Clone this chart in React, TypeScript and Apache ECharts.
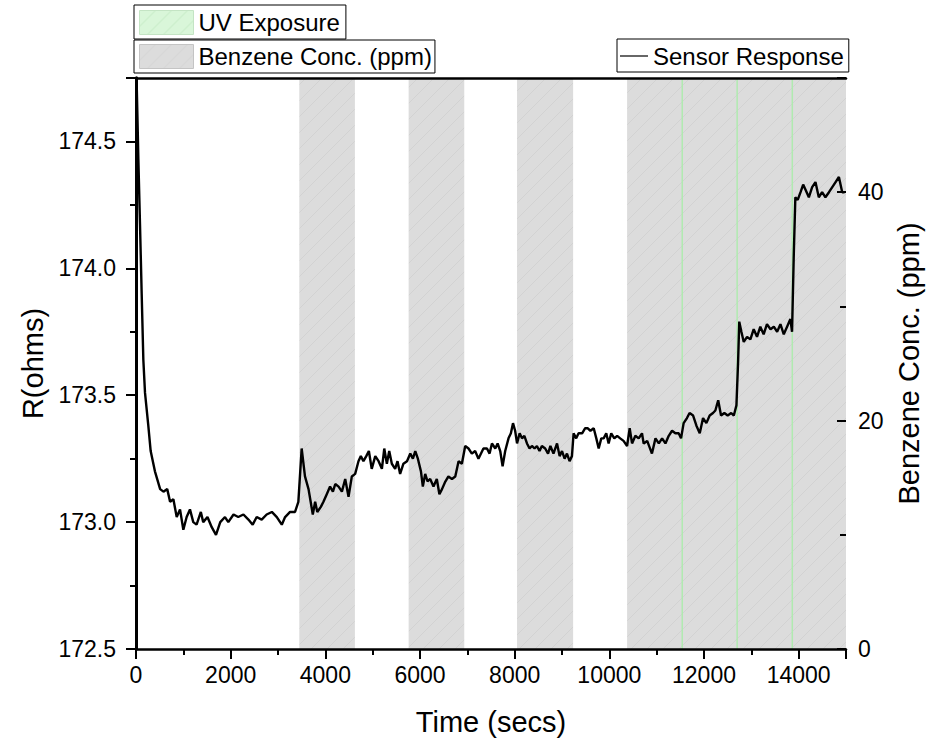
import React, { useEffect, useRef } from "react";
import * as echarts from "echarts";

// Sensor resistance trace (time in s, resistance in ohms)
const timeSecs = [
  0, 30, 50, 85, 120, 155, 190, 260, 310, 400, 510, 580, 660, 720, 790, 860, 930, 1000, 1070, 1140,
  1210, 1280, 1370, 1420, 1510, 1600, 1690, 1780, 1880, 1950, 2060, 2160, 2270, 2375, 2465, 2550,
  2655, 2760, 2870, 2975, 3080, 3150, 3255, 3360, 3430, 3500, 3570, 3645, 3690, 3735, 3785, 3830,
  3905, 3960, 4030, 4100, 4160, 4210, 4280, 4350, 4420, 4490, 4560, 4630, 4700, 4750, 4805, 4865,
  4920, 4980, 5055, 5125, 5195, 5245, 5300, 5350, 5405, 5475, 5525, 5580, 5650, 5725, 5795, 5850,
  5900, 5955, 6020, 6060, 6110, 6160, 6215, 6285, 6355, 6410, 6465, 6535, 6600, 6675, 6745, 6815,
  6885, 6955, 7025, 7095, 7165, 7235, 7340, 7415, 7470, 7520, 7590, 7640, 7695, 7745, 7800, 7870,
  7920, 7965, 8010, 8050, 8105, 8155, 8205, 8260, 8315, 8365, 8420, 8470, 8525, 8575, 8645, 8705,
  8755, 8820, 8895, 8950, 9000, 9055, 9105, 9160, 9210, 9245, 9300, 9350, 9425, 9490, 9540, 9600,
  9670, 9725, 9775, 9830, 9880, 9935, 9985, 10040, 10105, 10165, 10230, 10300, 10375, 10430, 10480,
  10550, 10620, 10690, 10725, 10800, 10900, 10975, 11045, 11115, 11185, 11255, 11325, 11395, 11465,
  11515, 11570, 11640, 11695, 11770, 11840, 11910, 11980, 12050, 12120, 12190, 12240, 12300, 12360,
  12430, 12500, 12575, 12630, 12685, 12720, 12745, 12790, 12840, 12910, 12980, 13050, 13120, 13190,
  13260, 13330, 13405, 13475, 13545, 13615, 13685, 13755, 13825, 13860, 13895, 13930, 13980, 14040,
  14095, 14145, 14215, 14285, 14355, 14425, 14495, 14565, 14640, 14710, 14780, 14850, 14920, 14970,
];
const resistance = [
  174.85, 174.6, 174.43, 174.17, 173.9, 173.64, 173.51, 173.38, 173.28, 173.2, 173.13, 173.12, 173.13,
  173.08, 173.09, 173.02, 173.05, 172.97, 173.02, 173.05, 173.0, 172.99, 173.04, 173.0, 173.02, 172.98,
  172.95, 173.0, 173.02, 173.0, 173.03, 173.02, 173.03, 173.01, 172.99, 173.02, 173.01, 173.03, 173.04,
  173.02, 172.99, 173.02, 173.04, 173.04, 173.08, 173.29, 173.18, 173.13, 173.08, 173.03, 173.08,
  173.04, 173.06, 173.08, 173.11, 173.14, 173.12, 173.15, 173.14, 173.12, 173.17, 173.1, 173.18,
  173.19, 173.24, 173.26, 173.24, 173.26, 173.28, 173.21, 173.26, 173.24, 173.21, 173.29, 173.23,
  173.28, 173.23, 173.21, 173.24, 173.19, 173.23, 173.24, 173.27, 173.25, 173.28, 173.25, 173.2,
  173.14, 173.19, 173.16, 173.17, 173.14, 173.17, 173.11, 173.13, 173.16, 173.18, 173.17, 173.18,
  173.24, 173.23, 173.3, 173.29, 173.27, 173.28, 173.25, 173.29, 173.29, 173.27, 173.31, 173.29,
  173.31, 173.28, 173.22, 173.28, 173.33, 173.35, 173.39, 173.36, 173.31, 173.35, 173.33, 173.34,
  173.31, 173.29, 173.3, 173.29, 173.3, 173.28, 173.3, 173.29, 173.27, 173.3, 173.27, 173.31, 173.26,
  173.28, 173.25, 173.27, 173.24, 173.26, 173.35, 173.33, 173.35, 173.35, 173.37, 173.37, 173.36,
  173.37, 173.33, 173.29, 173.33, 173.33, 173.35, 173.31, 173.35, 173.33, 173.34, 173.33, 173.32,
  173.3, 173.37, 173.31, 173.34, 173.33, 173.35, 173.31, 173.32, 173.27, 173.33, 173.31, 173.33,
  173.31, 173.34, 173.36, 173.35, 173.35, 173.33, 173.39, 173.41, 173.43, 173.42, 173.38, 173.35,
  173.41, 173.39, 173.42, 173.43, 173.44, 173.48, 173.42, 173.43, 173.42, 173.43, 173.42, 173.46,
  173.63, 173.79, 173.75, 173.71, 173.73, 173.72, 173.76, 173.73, 173.77, 173.74, 173.78, 173.76,
  173.77, 173.75, 173.78, 173.74, 173.77, 173.8, 173.75, 174.04, 174.28, 174.27, 174.3, 174.33,
  174.31, 174.28, 174.32, 174.34, 174.28, 174.3, 174.28, 174.3, 174.32, 174.34, 174.36, 174.3, 174.3,
];

// Benzene dosing windows: start (s), end (s), concentration (ppm)
const benzeneStart = [3450, 5760, 8050, 10375];
const benzeneEnd = [4625, 6935, 9235, 15000];
const benzeneConc = [50, 50, 50, 50];

// UV exposure pulses (s)
const uvTimes = [11540, 12700, 13865];

// Axis labels and minor tick positions
const xMajor = [0, 2000, 4000, 6000, 8000, 10000, 12000, 14000];
const xMinor = [1000, 3000, 5000, 7000, 9000, 11000, 13000, 15000];
const rMajor = [172.5, 173.0, 173.5, 174.0, 174.5];
const rMinor = [172.75, 173.25, 173.75, 174.25, 174.75];
const cMajor = [0, 20, 40];
const cMinor = [10, 30, 50];

const FONT = "'Liberation Sans', Arial, sans-serif";

function hatch(bg: string, line: string) {
  const s = 16;
  const c = document.createElement("canvas");
  c.width = s;
  c.height = s;
  const g = c.getContext("2d")!;
  g.fillStyle = bg;
  g.fillRect(0, 0, s, s);
  g.strokeStyle = line;
  g.lineWidth = 1;
  g.beginPath();
  g.moveTo(0, s);
  g.lineTo(s, 0);
  g.moveTo(-2, 2);
  g.lineTo(2, -2);
  g.moveTo(s - 2, s + 2);
  g.lineTo(s + 2, s - 2);
  g.stroke();
  return { image: c.toDataURL(), repeat: "repeat", imageWidth: s, imageHeight: s };
}

export default function App() {
  const ref = useRef<HTMLDivElement>(null);

  useEffect(() => {
    document.body.style.margin = "0";
    const chart = echarts.init(ref.current!, null, { renderer: "svg" });

    const grayFill = hatch("#dcdcdc", "#d2d2d2");
    const greenFill = hatch("#d9f6d9", "#c2e8c2");

    const sensor = timeSecs.map((t, i) => [t, resistance[i]]);
    const bands = benzeneStart.map((s, i) => [s, benzeneEnd[i], benzeneConc[i]]);
    const uv = uvTimes.map((t) => [t, 50]);

    const label = { color: "#000", fontSize: 23, fontFamily: FONT };
    const title = { color: "#000", fontSize: 29, fontFamily: FONT };
    const none = { show: false };
    const tickLine = { color: "#000", width: 2 };

    // Tick-only axis with evenly spaced major ticks
    const majorTicks = (position: string, min: number, max: number, interval: number, length: number, inside: boolean) => ({
      type: "value",
      position,
      min,
      max,
      interval,
      z: 10,
      axisLine: none,
      axisTick: { show: true, inside, length, lineStyle: tickLine },
      axisLabel: none,
      splitLine: none,
    });

    // Tick-only axis with short ticks at listed values
    const minorTicks = (position: string, min: number, max: number, values: number[], length: number, inside: boolean) => ({
      type: "value",
      position,
      min,
      max,
      z: 10,
      axisLine: none,
      axisTick: { show: true, inside, length, customValues: values, lineStyle: tickLine },
      axisLabel: none,
      splitLine: none,
    });

    const legendBase = {
      orient: "horizontal",
      borderColor: "#000",
      borderWidth: 1,
      backgroundColor: "#fff",
      itemGap: 0,
      textStyle: { color: "#000", fontSize: 24, fontFamily: FONT },
    };

    chart.setOption({
      animation: false,
      backgroundColor: "#fff",
      textStyle: { fontFamily: FONT },
      grid: { left: 136, right: 89, top: 78, bottom: 91, containLabel: false },
      legend: [
        {
          ...legendBase,
          left: 134,
          top: 5,
          padding: [5, 6, 4, 5],
          itemWidth: 54,
          itemHeight: 24,
          data: [
            {
              name: "UV Exposure",
              icon: "rect",
              itemStyle: { color: greenFill, borderColor: "#c4e4c4", borderWidth: 1 },
            },
          ],
        },
        {
          ...legendBase,
          left: 134,
          top: 40,
          padding: [4, 3, 4, 5],
          itemWidth: 54,
          itemHeight: 24,
          data: [
            {
              name: "Benzene Conc. (ppm)",
              icon: "rect",
              itemStyle: { color: grayFill, borderColor: "#c4c4c4", borderWidth: 1 },
            },
          ],
        },
        {
          ...legendBase,
          left: 617,
          top: 39,
          padding: [5, 5, 4, 3],
          itemWidth: 28,
          itemHeight: 24,
          data: [
            {
              name: "Sensor Response",
              icon: "path://M0,11.4H28V12.6H0Z",
              itemStyle: { color: "#000", borderWidth: 0 },
            },
          ],
        },
      ],
      xAxis: [
        {
          type: "value",
          position: "bottom",
          min: 0,
          max: 15000,
          z: 10,
          name: "Time (secs)",
          nameLocation: "middle",
          nameGap: 58,
          nameTextStyle: title,
          axisLine: { show: true, lineStyle: { color: "#000", width: 2.5 } },
          axisTick: none,
          axisLabel: { ...label, margin: 14, customValues: xMajor, formatter: (v: number) => String(v) },
          splitLine: none,
        },
        majorTicks("bottom", 0, 15000, 2000, 10, false),
        minorTicks("bottom", 0, 15000, xMinor, 6, false),
        {
          type: "value",
          position: "top",
          min: 0,
          max: 15000,
          z: 10,
          axisLine: { show: true, lineStyle: { color: "#000", width: 2.5 } },
          axisTick: none,
          axisLabel: none,
          splitLine: none,
        },
      ],
      yAxis: [
        {
          type: "value",
          position: "left",
          min: 172.5,
          max: 174.75,
          z: 10,
          name: "R(ohms)",
          nameLocation: "middle",
          nameGap: 78,
          nameTextStyle: title,
          axisLine: { show: true, lineStyle: { color: "#000", width: 3 } },
          axisTick: none,
          axisLabel: { ...label, margin: 20, customValues: rMajor, formatter: (v: number) => v.toFixed(1) },
          splitLine: none,
        },
        {
          type: "value",
          position: "right",
          min: 0,
          max: 50,
          z: 10,
          name: "Benzene Conc. (ppm)",
          nameLocation: "middle",
          nameGap: 46,
          nameTextStyle: title,
          axisLine: { show: true, lineStyle: { color: "#000", width: 2.5 } },
          axisTick: none,
          axisLabel: { ...label, margin: 12, customValues: cMajor, formatter: (v: number) => String(v) },
          splitLine: none,
        },
        majorTicks("left", 172.5, 174.75, 0.5, 10, false),
        minorTicks("left", 172.5, 174.75, rMinor, 6, false),
        majorTicks("right", 0, 50, 20, 9, true),
        minorTicks("right", 0, 50, cMinor, 6, true),
      ],
      series: [
        {
          name: "Benzene Conc. (ppm)",
          type: "custom",
          xAxisIndex: 0,
          yAxisIndex: 1,
          z: 1,
          clip: true,
          encode: { x: [0, 1], y: 2 },
          itemStyle: { color: "#dcdcdc" },
          data: bands,
          renderItem: (params: any, api: any) => {
            const p0 = api.coord([api.value(0), 0]);
            const p1 = api.coord([api.value(1), api.value(2)]);
            return {
              type: "rect",
              shape: { x: p0[0], y: p1[1], width: p1[0] - p0[0], height: p0[1] - p1[1] },
              style: { fill: grayFill, stroke: null },
            };
          },
        },
        {
          name: "UV Exposure",
          type: "custom",
          xAxisIndex: 0,
          yAxisIndex: 1,
          z: 2,
          clip: true,
          encode: { x: 0, y: 1 },
          itemStyle: { color: "#b4ecb4" },
          data: uv,
          renderItem: (params: any, api: any) => {
            const a = api.coord([api.value(0), 0]);
            const b = api.coord([api.value(0), api.value(1)]);
            return {
              type: "line",
              shape: { x1: a[0], y1: a[1], x2: b[0], y2: b[1] },
              style: { stroke: "#b0eab0", lineWidth: 1.5 },
            };
          },
        },
        {
          name: "Sensor Response",
          type: "line",
          xAxisIndex: 0,
          yAxisIndex: 0,
          z: 3,
          clip: true,
          symbol: "none",
          showSymbol: false,
          lineStyle: { color: "#000", width: 2.4 },
          itemStyle: { color: "#000" },
          data: sensor,
        },
      ],
    });

    return () => chart.dispose();
  }, []);

  return <div ref={ref} style={{ width: 935, height: 741 }} />;
}
